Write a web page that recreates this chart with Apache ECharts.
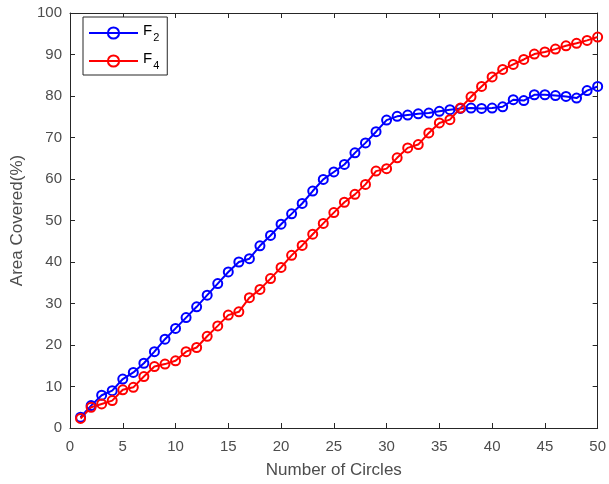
<!DOCTYPE html>
<html>
<head>
<meta charset="utf-8">
<script src="https://cdn.jsdelivr.net/npm/echarts@6/dist/echarts.min.js"></script>
<style>
  html, body { margin: 0; padding: 0; background: #fff; }
  #chart { width: 609px; height: 484px; }
</style>
</head>
<body>
<div id="chart"></div>
<script>
// Number of circles placed (x axis)
const circles = [1,2,3,4,5,6,7,8,9,10,11,12,13,14,15,16,17,18,19,20,
  21,22,23,24,25,26,27,28,29,30,31,32,33,34,35,36,37,38,39,40,
  41,42,43,44,45,46,47,48,49,50];

// Area covered (%) for each configuration
const areaF2 = [2.6,5.4,7.9,9.0,11.8,13.4,15.6,18.4,21.4,24.0,
  26.6,29.2,32.0,34.8,37.6,40.0,40.8,43.9,46.4,49.1,
  51.6,54.1,57.1,59.9,61.7,63.5,66.3,68.7,71.4,74.2,
  75.1,75.4,75.7,75.9,76.3,76.7,77.0,77.1,77.0,77.1,
  77.4,79.1,78.9,80.3,80.3,80.1,79.9,79.5,81.3,82.3];

const areaF4 = [2.3,5.0,5.8,6.6,9.2,9.8,12.4,14.8,15.4,16.2,
  18.4,19.4,22.1,24.6,27.2,28.0,31.4,33.4,36.0,38.7,
  41.6,44.0,46.7,49.3,51.9,54.4,56.3,58.7,61.9,62.5,
  65.1,67.5,68.3,71.1,73.5,74.3,77.1,79.8,82.3,84.6,
  86.4,87.6,88.8,90.1,90.6,91.3,92.1,92.7,93.4,94.2];

const seriesNames = ['F2', 'F4'];
const seriesColors = ['#0000ff', '#ff0000'];

const font = '"Liberation Sans", Arial, Helvetica, sans-serif';
const axisColor = '#262626';
const labelColor = '#4d4d4d';

function pairs(ys) {
  return circles.map((c, i) => [c, ys[i]]);
}

function lineSeries(name, ys, color) {
  return {
    name: name,
    type: 'line',
    data: pairs(ys),
    symbol: 'circle',
    symbolSize: 9,
    lineStyle: { color: color, width: 2 },
    itemStyle: { color: 'rgba(255,255,255,0)', borderColor: color, borderWidth: 2 },
    emphasis: { disabled: true },
    animation: false,
    z: 3
  };
}

const xBase = { type: 'value', min: 0, max: 50, interval: 5 };
const yBase = { type: 'value', min: 0, max: 100, interval: 10 };

const option = {
  animation: false,
  textStyle: { fontFamily: font },
  grid: { left: 70, right: 10, top: 13, bottom: 55, show: false },
  legend: {
    orient: 'vertical',
    left: 83,
    top: 17,
    padding: [6, 8, 4, 5],
    itemWidth: 49,
    itemHeight: 14,
    itemGap: 8,
    backgroundColor: '#fff',
    borderColor: axisColor,
    borderWidth: 1,
    data: seriesNames,
    formatter: function (name) {
      return '{f|F}{s|' + name.slice(1) + '}';
    },
    textStyle: {
      rich: {
        f: { fontFamily: font, fontSize: 15, color: '#000', verticalAlign: 'top', lineHeight: 16 },
        s: { fontFamily: font, fontSize: 11, color: '#000', verticalAlign: 'bottom', padding: [9, 0, 0, 1] }
      }
    }
  },
  xAxis: [
    Object.assign({}, xBase, {
      position: 'bottom',
      name: 'Number of Circles',
      nameLocation: 'middle',
      nameGap: 34,
      nameTextStyle: { fontFamily: font, fontSize: 17, color: labelColor },
      axisLine: { show: true, lineStyle: { color: axisColor, width: 1 } },
      axisTick: { show: true, inside: true, length: 5, lineStyle: { color: axisColor } },
      axisLabel: { fontFamily: font, fontSize: 15, color: labelColor, margin: 11 },
      splitLine: { show: false }
    }),
    Object.assign({}, xBase, {
      position: 'top',
      axisLine: { show: true, onZero: false, lineStyle: { color: axisColor, width: 1 } },
      axisTick: { show: true, inside: true, length: 5, lineStyle: { color: axisColor } },
      axisLabel: { show: false },
      splitLine: { show: false }
    })
  ],
  yAxis: [
    Object.assign({}, yBase, {
      position: 'left',
      name: 'Area Covered(%)',
      nameLocation: 'middle',
      nameGap: 40,
      nameTextStyle: { fontFamily: font, fontSize: 17, color: labelColor },
      axisLine: { show: true, lineStyle: { color: axisColor, width: 1 } },
      axisTick: { show: true, inside: true, length: 5, lineStyle: { color: axisColor } },
      axisLabel: { fontFamily: font, fontSize: 15, color: labelColor, margin: 8, padding: [6, 0, 0, 0] },
      splitLine: { show: false }
    }),
    Object.assign({}, yBase, {
      position: 'right',
      axisLine: { show: true, onZero: false, lineStyle: { color: axisColor, width: 1 } },
      axisTick: { show: true, inside: true, length: 5, lineStyle: { color: axisColor } },
      axisLabel: { show: false },
      splitLine: { show: false }
    })
  ],
  series: [
    lineSeries(seriesNames[0], areaF2, seriesColors[0]),
    lineSeries(seriesNames[1], areaF4, seriesColors[1])
  ]
};

const chart = echarts.init(document.getElementById('chart'), null, { renderer: 'canvas' });
chart.setOption(option);
</script>
</body>
</html>
